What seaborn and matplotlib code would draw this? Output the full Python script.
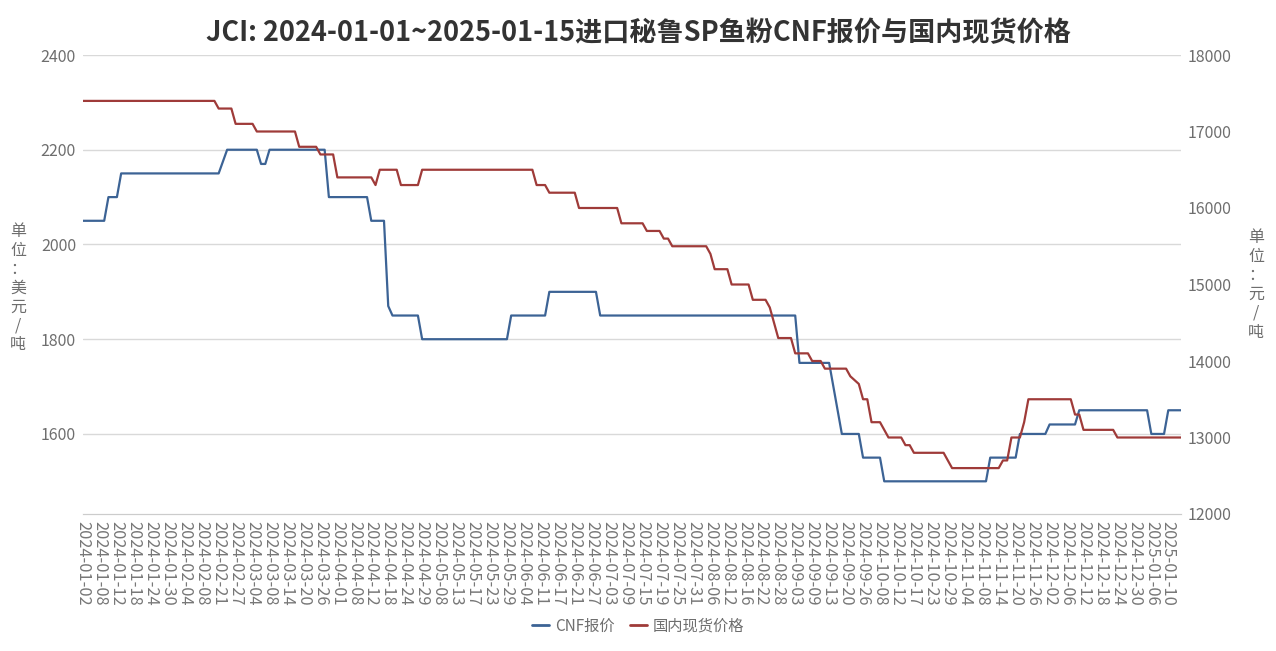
import pandas as pd
import seaborn as sb
import matplotlib
matplotlib.use("Agg")
import matplotlib.pyplot as plt
from matplotlib.lines import Line2D

# trading calendar (Chinese working days, incl. weekend make-up days)
holidays = ["2024-01-01", "2024-02-09", "2024-02-12", "2024-02-13", "2024-02-14",
            "2024-02-15", "2024-02-16", "2024-04-04", "2024-04-05", "2024-05-01",
            "2024-05-02", "2024-05-03", "2024-06-10", "2024-09-16", "2024-09-17",
            "2024-10-01", "2024-10-02", "2024-10-03", "2024-10-04", "2024-10-07",
            "2025-01-01"]
makeup_days = ["2024-02-04", "2024-02-18", "2024-04-07", "2024-04-28", "2024-05-11",
               "2024-09-14", "2024-09-29", "2024-10-12"]

days = pd.bdate_range("2024-01-02", "2025-01-15")
days = days.drop(pd.to_datetime(holidays), errors="ignore")
days = days.union(pd.to_datetime(makeup_days))
dates = [d.strftime("%Y-%m-%d") for d in days]

# CNF quote (USD/t), as (value, number of days) runs
cnf_runs = [(2050, 6), (2100, 3), (2150, 24), (2175, 1), (2200, 8), (2170, 2),
            (2200, 14), (2100, 10), (2050, 4), (1870, 1), (1850, 7), (1800, 21),
            (1850, 9), (1900, 12), (1850, 47), (1750, 8), (1700, 1), (1650, 1),
            (1600, 5), (1550, 5), (1500, 25), (1550, 7), (1600, 7), (1620, 7),
            (1650, 17), (1600, 4), (1650, 4)]

# domestic spot price (CNY/t)
spot_runs = [(17400, 32), (17300, 4), (17100, 5), (17000, 10), (16800, 5), (16700, 4),
             (16400, 9), (16300, 1), (16500, 5), (16300, 5), (16500, 27), (16300, 3),
             (16200, 7), (16000, 10), (15800, 6), (15700, 4), (15600, 2), (15500, 9),
             (15400, 1), (15200, 4), (15000, 5), (14800, 4), (14700, 1), (14500, 1),
             (14300, 4), (14100, 4), (14000, 3), (13900, 6), (13800, 1), (13750, 1),
             (13700, 1), (13500, 2), (13200, 3), (13100, 1), (13000, 4), (12900, 2),
             (12800, 8), (12700, 1), (12600, 12), (12700, 2), (13000, 3), (13200, 1),
             (13500, 11), (13300, 2), (13100, 8), (13000, 16)]

left_ticks = [1600, 1800, 2000, 2200, 2400]
right_ticks = [12000, 13000, 14000, 15000, 16000, 17000, 18000]


def expand(runs):
    out = []
    for v, n in runs:
        out += [v] * n
    return out


df = pd.DataFrame({"idx": range(len(dates)), "date": dates,
                   "cnf": expand(cnf_runs), "spot": expand(spot_runs)})

blue = "#3c6395"
red = "#9f3b39"
grey = "#6e6e6e"

sb.set_style("white")
plt.rcParams["font.family"] = ["Noto Sans CJK SC", "DejaVu Sans"]

fig = plt.figure(figsize=(12.76, 6.51), dpi=100)
ax = fig.add_axes([83 / 1276, 1 - 514 / 651, 1098 / 1276, 459 / 651])
ax2 = ax.twinx()

sb.lineplot(data=df, x="idx", y="cnf", ax=ax, color=blue, linewidth=1.6, legend=False)
sb.lineplot(data=df, x="idx", y="spot", ax=ax2, color=red, linewidth=1.6, legend=False)

ax.set_xlim(0, len(dates) - 1)
ax.set_ylim(1431, 2400)
ax2.set_ylim(12000, 18000)

ax.set_yticks(left_ticks)
ax2.set_yticks(right_ticks)
ax.grid(axis="y", color="#d9d9d9", linewidth=1)
ax.set_axisbelow(True)

ax.set_xticks(df["idx"][::4])
ax.set_xticklabels(df["date"][::4], rotation=-90, fontsize=11.8, color="#777777")
ax.set_xticks(df["idx"], minor=True)
ax.tick_params(axis="x", which="both", length=4, color="#bbbbbb", pad=1)
ax.tick_params(axis="y", length=0, labelsize=11.5, labelcolor=grey, pad=5)
ax2.tick_params(axis="y", length=0, labelsize=11.5, labelcolor=grey, pad=5)

for a in (ax, ax2):
    for side in ("left", "right", "top"):
        a.spines[side].set_visible(False)
    a.spines["bottom"].set_color("#cccccc")
    a.set_xlabel("")
    a.set_ylabel("")

fig.text(18 / 1276, 1 - 288 / 651, "单\n位\n：\n美\n元\n/\n吨", ha="center", va="center",
         fontsize=11.5, color=grey, linespacing=1.15)
fig.text(1256 / 1276, 1 - 285 / 651, "单\n位\n：\n元\n/\n吨", ha="center", va="center",
         fontsize=11.5, color=grey, linespacing=1.15)

fig.suptitle("JCI: 2024-01-01~2025-01-15进口秘鲁SP鱼粉CNF报价与国内现货价格",
             x=0.5, y=1 - 33 / 651, va="center", fontsize=19.5, fontweight="bold", color="#333333")

handles = [Line2D([], [], color=blue, linewidth=2), Line2D([], [], color=red, linewidth=2)]
fig.legend(handles, ["CNF报价", "国内现货价格"], loc="center", bbox_to_anchor=(0.5, 1 - 626 / 651),
           ncol=2, frameon=False, fontsize=11, labelcolor=grey, handlelength=1.1,
           handletextpad=0.4, columnspacing=1.0)

fig.savefig("out.png", dpi=100)
